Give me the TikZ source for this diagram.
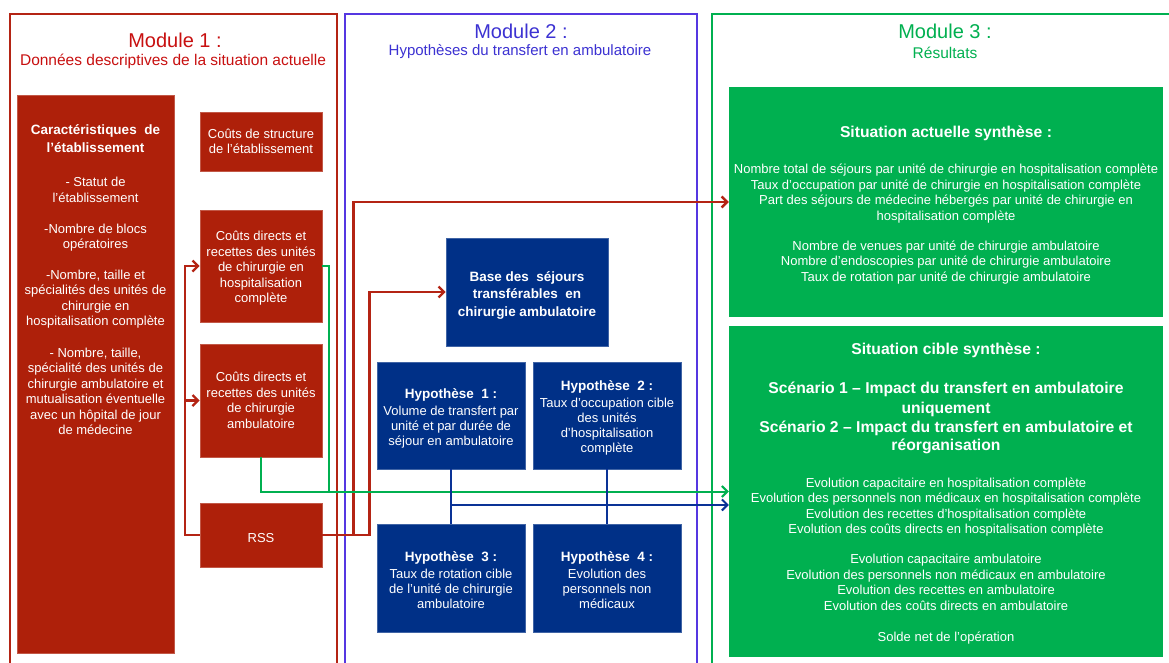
\documentclass[tikz,border=0pt]{standalone}
\usepackage{fontspec}
\setmainfont{Liberation Sans}
\usetikzlibrary{arrows.meta}
\definecolor{boxred}{RGB}{174,32,10}
\definecolor{framered}{RGB}{180,36,20}
\definecolor{titlered}{RGB}{200,16,16}
\definecolor{boxblue}{RGB}{0,48,135}
\definecolor{frameblue}{RGB}{85,55,225}
\definecolor{titleblue}{RGB}{60,50,210}
\definecolor{linkblue}{RGB}{10,50,150}
\definecolor{boxgreen}{RGB}{0,176,80}
\newcommand\fsBody{\fontsize{13}{15.5}\selectfont\lineskiplimit=-100pt}
\newcommand\fsBlue{\fontsize{13}{15}\selectfont\lineskiplimit=-100pt}
\newcommand\fsBase{\fontsize{13.5}{17.5}\selectfont\bfseries\lineskiplimit=-100pt}
\newcommand\bTitle[1]{{\fontsize{15.7}{19}\selectfont\bfseries #1}}
\newcommand\bSmall[1]{{\fontsize{13.5}{15}\selectfont\bfseries #1}}
\newcommand\lift[1]{\rule{0pt}{#1}}
\tikzset{
  frame/.style={line width=2pt},
  box/.style={inner sep=0pt, text=white, align=center, anchor=center},
  redbox/.style={box, fill=boxred, draw=boxred!75!white, line width=0.6pt, font=\fsBody, minimum width=122pt},
  bluebox/.style={box, fill=boxblue, draw=boxblue!75!white, line width=0.6pt, font=\fsBlue},
  greenbox/.style={box, fill=boxgreen, font=\fsBody, minimum width=434pt},
  tip/.style={-{Straight Barb[length=5.5pt,width=11pt]}},
  redlink/.style={draw=framered, line width=2.4pt},
  greenlink/.style={draw=boxgreen, line width=2pt},
  bluelink/.style={draw=linkblue, line width=2pt},
  title/.style={font=\fontsize{20}{24}\selectfont, inner sep=0pt},
  subtitle/.style={font=\fontsize{15.5}{18}\selectfont, inner sep=0pt}
}
\begin{document}
\begin{tikzpicture}[x=1pt,y=-1pt]
\useasboundingbox (0,0) rectangle (1169,662);
\clip (0,0) rectangle (1169,662);
\fill[white] (0,0) rectangle (1169,662);
% module frames
\draw[frame, draw=framered] (10,14) rectangle (337,690);
\draw[frame, draw=frameblue] (345,14) rectangle (697,690);
\draw[frame, draw=boxgreen] (712,14) rectangle (1190,690);
% titles
\node[title, text=titlered] (m1t) at (175,40) {Module 1 :};
\node[subtitle, text=titlered] (m1s) at (173,61) {Données descriptives de la situation actuelle};
\node[title, text=titleblue] (m2t) at (521,31) {Module 2 :};
\node[subtitle, text=titleblue, font=\fontsize{15}{18}\selectfont] (m2s) at (520,52) {Hypothèses du transfert en ambulatoire};
\node[title, text=boxgreen] (m3t) at (945,31) {Module 3 :};
\node[subtitle, text=boxgreen] (m3s) at (945,53) {Résultats};
% module 1 boxes
\node[redbox, minimum width=157pt, minimum height=558pt] (big) at (95.5,374) {};
\node[box, font=\fsBody] (bigtext) at (95.5,280) {\bSmall{Caractéristiques~~de}\\[2.5pt]
\bSmall{l’établissement}\\[18.5pt]
- Statut de\\l’établissement\\[15.5pt]
-Nombre de blocs\\opératoires\\[15pt]
-Nombre, taille et\\spécialités des unités de\\chirurgie en\\hospitalisation complète\\[16pt]
- Nombre, taille,\\spécialité des unités de\\chirurgie ambulatoire et\\mutualisation éventuelle\\avec un hôpital de jour\\de médecine};
\node[redbox, minimum height=59pt] (struct) at (261,141.5) {Coûts de structure\\de l’établissement};
\node[redbox, minimum height=112pt] (hosp) at (261,266) {\lift{14pt}Coûts directs et\\recettes des unités\\de chirurgie en\\hospitalisation\\complète};
\node[redbox, minimum height=113pt] (ambu) at (261,400.5) {Coûts directs et\\recettes des unités\\de chirurgie\\ambulatoire};
\node[redbox, minimum height=64pt] (rss) at (261,535) {\lift{15pt}RSS};
% module 2 boxes
\node[bluebox, font=\fsBase, minimum width=162pt, minimum height=108pt] (base) at (527,292) {\lift{16pt}Base des~~séjours\\transférables~~en\\chirurgie ambulatoire};
\node[bluebox, minimum width=148pt, minimum height=107pt] (h1) at (451,415.5) {\lift{15pt}\bSmall{Hypothèse~~1 :}\\[2pt]Volume de transfert par\\unité et par durée de\\séjour en ambulatoire};
\node[bluebox, minimum width=148pt, minimum height=107pt] (h2) at (607,415.5) {\lift{14pt}\bSmall{Hypothèse~~2 :}\\[2pt]Taux d’occupation cible\\des unités\\d’hospitalisation\\complète};
\node[bluebox, minimum width=148pt, minimum height=108pt] (h3) at (451,578) {\lift{15pt}\bSmall{Hypothèse~~3 :}\\[2pt]Taux de rotation cible\\de l’unité de chirurgie\\ambulatoire};
\node[bluebox, minimum width=148pt, minimum height=108pt] (h4) at (607,578) {\lift{15pt}\bSmall{Hypothèse~~4 :}\\[2pt]Evolution des\\personnels non\\médicaux};
% module 3 boxes
\node[greenbox, minimum height=230pt] (sa) at (946,202) {\lift{18pt}\bTitle{Situation actuelle synthèse :}\\[20.5pt]
Nombre total de séjours par unité de chirurgie en hospitalisation complète\\
Taux d’occupation par unité de chirurgie en hospitalisation complète\\
Part des séjours de médecine hébergés par unité de chirurgie en\\
hospitalisation complète\\[14.5pt]
Nombre de venues par unité de chirurgie ambulatoire\\
Nombre d’endoscopies par unité de chirurgie ambulatoire\\
Taux de rotation par unité de chirurgie ambulatoire};
\node[greenbox, minimum height=331pt] (sc) at (946,491.5) {\lift{15pt}\bTitle{Situation cible synthèse :}\\[23.5pt]
\bTitle{Scénario 1 – Impact du transfert en ambulatoire}\\[4.5pt]
\bTitle{uniquement}\\[3.5pt]
\bTitle{Scénario 2 – Impact du transfert en ambulatoire et}\\[2.5pt]
\bTitle{réorganisation}\\[21.5pt]
Evolution capacitaire en hospitalisation complète\\
Evolution des personnels non médicaux en hospitalisation complète\\
Evolution des recettes d’hospitalisation complète\\
Evolution des coûts directs en hospitalisation complète\\[14.5pt]
Evolution capacitaire ambulatoire\\
Evolution des personnels non médicaux en ambulatoire\\
Evolution des recettes en ambulatoire\\
Evolution des coûts directs en ambulatoire\\[15.5pt]
Solde net de l’opération};
% connectors
\draw[redlink, tip] (rss.west) -- ++(-15,0) coordinate (rl) |- (hosp.west);
\draw[redlink, tip] (rl) |- (ambu.west);
\draw[redlink, tip] (rss.east) -- ++(31,0) |- (sa.west);
\draw[redlink, tip] (rss.east) -- ++(47,0) |- (base.west);
\draw[greenlink] (hosp.east) -- ++(7,0) coordinate (g1) -- (g1 |- sc.west);
\draw[greenlink, tip] (ambu.south) |- (sc.west);
\draw[bluelink] (h1.south) -- (h3.north);
\draw[bluelink] (h2.south) -- (h4.north);
\path (h1.south) -- (h3.north) coordinate[pos=0.655] (bj);
\draw[bluelink, tip] (bj) -- (bj -| sc.west);
\end{tikzpicture}
\end{document}
